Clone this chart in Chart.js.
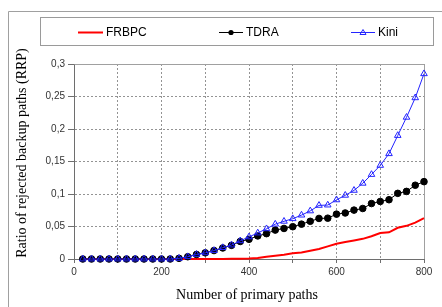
<!DOCTYPE html>
<html>
<head>
<meta charset="utf-8">
<script src="https://cdn.jsdelivr.net/npm/chart.js@4.4.1/dist/chart.umd.min.js"></script>
<style>
  html, body { margin: 0; padding: 0; background: #fff; }
  #wrap { width: 442px; height: 307px; }
</style>
</head>
<body>
<div id="wrap"><canvas id="rrpChart" width="442" height="307"></canvas></div>
<script>
// number of primary paths (x)
const primaryPaths = [20, 40, 60, 80, 100, 120, 140, 160, 180, 200,
  220, 240, 260, 280, 300, 320, 340, 360, 380, 400,
  420, 440, 460, 480, 500, 520, 540, 560, 580, 600,
  620, 640, 660, 680, 700, 720, 740, 760, 780, 800];

const frbpc = [0, 0, 0, 0, 0, 0, 0, 0, 0, 0,
  0, 0, 0, 0, 0, 0, 0, 0.0003, 0.0005, 0.0008,
  0.0015, 0.0036, 0.005, 0.0066, 0.0087, 0.010, 0.0128, 0.0153, 0.0194, 0.0235,
  0.026, 0.0285, 0.031, 0.035, 0.040, 0.041, 0.048, 0.051, 0.056, 0.0628];

const tdra = [0, 0, 0, 0, 0, 0, 0, 0, 0, 0,
  0, 0.001, 0.0035, 0.007, 0.0095, 0.013, 0.017, 0.021, 0.027, 0.0303,
  0.0355, 0.039, 0.0445, 0.047, 0.0497, 0.0536, 0.058, 0.0624, 0.0628, 0.069,
  0.0708, 0.0752, 0.0777, 0.0853, 0.0885, 0.0912, 0.101, 0.104, 0.1135, 0.119];

const kini = [0, 0, 0, 0, 0, 0, 0, 0, 0, 0,
  0, 0.001, 0.0035, 0.007, 0.0095, 0.013, 0.0175, 0.0215, 0.028, 0.034,
  0.040, 0.0465, 0.0536, 0.058, 0.062, 0.0675, 0.074, 0.0825, 0.083, 0.091,
  0.098, 0.1056, 0.1165, 0.130, 0.144, 0.162, 0.190, 0.218, 0.248, 0.285];

const seriesNames = ["FRBPC", "TDRA", "Kini"];
const xTitle = "Number of primary paths";
const yTitle = "Ratio of rejected backup paths (RRP)";

const toPoints = (ys) => ys.map((y, i) => ({ x: primaryPaths[i], y: y }));

const tickFont = { family: "'Liberation Sans', Arial, sans-serif", size: 10 };
const axisColor = "#6e6e6e";
const gridColor = "#939393";

// frame, plot-area border, titles and legend drawn straight onto the canvas
const decorPlugin = {
  id: "decor",
  beforeDraw(chart) {
    const ctx = chart.ctx;
    ctx.save();
    ctx.fillStyle = "#fff";
    ctx.fillRect(0, 0, chart.width, chart.height);
    ctx.strokeStyle = "#a0a0a0";
    ctx.lineWidth = 1;
    ctx.beginPath();
    ctx.moveTo(8.5, chart.height);
    ctx.lineTo(8.5, 11.5);
    ctx.lineTo(chart.width, 11.5);
    ctx.stroke();
    ctx.restore();
  },
  beforeDatasetsDraw(chart) {
    const { ctx, chartArea: a } = chart;
    ctx.save();
    ctx.strokeStyle = "#a0a0a0";
    ctx.lineWidth = 1;
    ctx.beginPath();
    ctx.moveTo(Math.round(a.left) + 0.5, Math.round(a.top) + 0.5);
    ctx.lineTo(Math.round(a.right) + 0.5, Math.round(a.top) + 0.5);
    ctx.lineTo(Math.round(a.right) + 0.5, Math.round(a.bottom));
    ctx.stroke();
    ctx.restore();
  },
  afterDraw(chart) {
    const ctx = chart.ctx;
    ctx.save();

    // axis titles
    ctx.fillStyle = "#000";
    ctx.font = "14px 'Liberation Serif', 'Times New Roman', serif";
    ctx.textAlign = "center";
    ctx.textBaseline = "middle";
    ctx.fillText(xTitle, 247, 295);
    ctx.translate(22, 153);
    ctx.rotate(-Math.PI / 2);
    ctx.fillText(yTitle, 0, 0);
    ctx.setTransform(1, 0, 0, 1, 0, 0);

    // legend box
    ctx.strokeStyle = "#9a9a9a";
    ctx.lineWidth = 1;
    ctx.strokeRect(40.5, 17.5, 393, 28);

    const items = [
      { ds: chart.data.datasets[2], x0: 78, x1: 103, tx: 106 },
      { ds: chart.data.datasets[1], x0: 219, x1: 243, tx: 246 },
      { ds: chart.data.datasets[0], x0: 351, x1: 375, tx: 378 }
    ];
    const ly = 32;
    items.forEach((it) => {
      const ds = it.ds;
      ctx.strokeStyle = ds.borderColor;
      ctx.lineWidth = ds.borderWidth;
      ctx.beginPath();
      ctx.moveTo(it.x0, ly + 0.5);
      ctx.lineTo(it.x1, ly + 0.5);
      ctx.stroke();
      const cx = (it.x0 + it.x1) / 2;
      if (ds.pointStyle === "circle" && ds.pointRadius > 0) {
        ctx.fillStyle = ds.pointBackgroundColor;
        ctx.beginPath();
        ctx.arc(cx, ly + 0.5, 2.6, 0, Math.PI * 2);
        ctx.fill();
      } else if (ds.pointStyle === "triangle") {
        ctx.lineWidth = 1;
        ctx.beginPath();
        ctx.moveTo(cx, ly - 2.5);
        ctx.lineTo(cx + 3, ly + 2.5);
        ctx.lineTo(cx - 3, ly + 2.5);
        ctx.closePath();
        ctx.stroke();
      }
      ctx.fillStyle = "#000";
      ctx.font = "12px 'Liberation Sans', Arial, sans-serif";
      ctx.textAlign = "left";
      ctx.textBaseline = "middle";
      ctx.fillText(ds.label, it.tx, ly + 0.5);
    });
    ctx.restore();
  }
};

new Chart(document.getElementById("rrpChart"), {
  type: "line",
  data: {
    datasets: [
      {
        label: seriesNames[2],
        data: toPoints(kini),
        order: 0,
        borderColor: "#2424ff",
        borderWidth: 1,
        pointStyle: "triangle",
        pointRadius: 3.8,
        pointBorderColor: "#2424ff",
        pointBackgroundColor: "rgba(255,255,255,0)",
        pointBorderWidth: 1,
        tension: 0,
        clip: false
      },
      {
        label: seriesNames[1],
        data: toPoints(tdra),
        order: 1,
        borderColor: "#000",
        borderWidth: 1,
        pointStyle: "circle",
        pointRadius: 3.3,
        pointBorderColor: "#000",
        pointBackgroundColor: "#000",
        pointBorderWidth: 1,
        tension: 0,
        clip: false
      },
      {
        label: seriesNames[0],
        data: toPoints(frbpc),
        order: 2,
        borderColor: "#ff0000",
        borderWidth: 2,
        pointRadius: 0,
        tension: 0,
        clip: false
      }
    ]
  },
  options: {
    responsive: false,
    animation: false,
    devicePixelRatio: 1,
    layout: { padding: { top: 64, right: 18, bottom: 0, left: 0 } },
    plugins: {
      legend: { display: false },
      tooltip: { enabled: false }
    },
    scales: {
      x: {
        type: "linear",
        min: 0,
        max: 800,
        afterFit: (scale) => { scale.height = 48; },
        ticks: {
          stepSize: 100,
          maxRotation: 0,
          autoSkip: false,
          padding: 3,
          color: "#333",
          font: tickFont,
          callback: (v) => (v % 200 === 0 ? String(v) : "")
        },
        grid: {
          color: gridColor,
          tickColor: axisColor,
          tickLength: 4
        },
        border: { color: axisColor, dash: [2, 2] }
      },
      y: {
        min: 0,
        max: 0.3,
        afterFit: (scale) => { scale.width = 74; },
        ticks: {
          stepSize: 0.05,
          padding: 3,
          color: "#333",
          font: tickFont,
          callback: (v) => String(Math.round(v * 100) / 100).replace(".", ",")
        },
        grid: {
          color: gridColor,
          tickColor: axisColor,
          tickLength: 6
        },
        border: { color: axisColor, dash: [2, 2] }
      }
    }
  },
  plugins: [decorPlugin]
});
</script>
</body>
</html>
